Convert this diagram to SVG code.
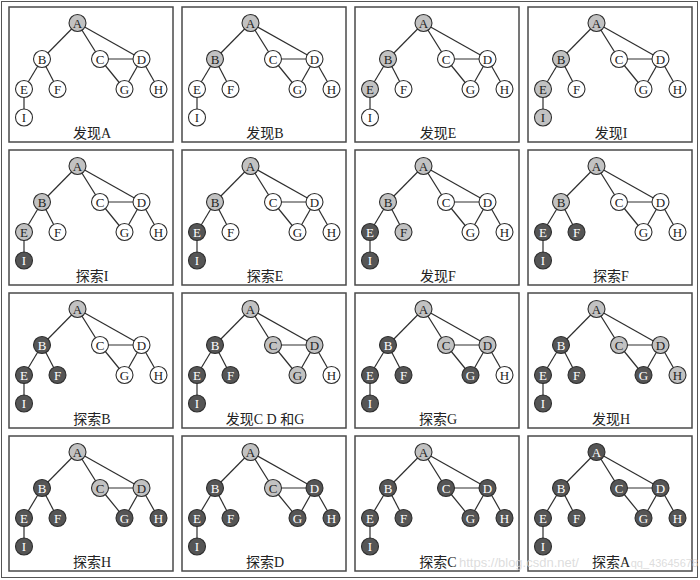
<svg xmlns="http://www.w3.org/2000/svg" xmlns:xlink="http://www.w3.org/1999/xlink" width="700" height="580" viewBox="0 0 700 580">
<style>
.frame{fill:#fff;stroke:#555;stroke-width:1}
.panel{fill:#fff;stroke:#4a4a4a;stroke-width:1.5}
.edge{stroke:#2e2e2e;stroke-width:1.2;fill:none}
.n circle{stroke:#2e2e2e;stroke-width:1.1;}
.w circle{fill:#fff}
.l circle{fill:#c2c2c2}
.d circle{fill:#555}
.n text{font-family:"Liberation Serif","Noto Sans CJK SC",serif;font-size:13px;text-anchor:middle;fill:#222}
.d text{fill:#fff}
.lbl{font-family:"Liberation Serif","Noto Sans CJK SC",serif;font-size:14px;text-anchor:middle;fill:#222}
.wm{font-family:"Liberation Sans",sans-serif;fill:#d4d4d4;fill-opacity:0.8}
</style>
<defs>
<g id="edges">
<line class="edge" x1="68.5" y1="16" x2="33" y2="52"/>
<line class="edge" x1="68.5" y1="16" x2="91" y2="52"/>
<line class="edge" x1="68.5" y1="16" x2="132.5" y2="52"/>
<line class="edge" x1="33" y1="52" x2="15" y2="82"/>
<line class="edge" x1="33" y1="52" x2="48.5" y2="82"/>
<line class="edge" x1="91" y1="52" x2="132.5" y2="52"/>
<line class="edge" x1="91" y1="52" x2="115.5" y2="82"/>
<line class="edge" x1="132.5" y1="52" x2="115.5" y2="82"/>
<line class="edge" x1="132.5" y1="52" x2="149.5" y2="82"/>
<line class="edge" x1="15" y1="82" x2="15" y2="110.5"/>
</g>
</defs>
<rect class="frame" x="1.5" y="1.5" width="696" height="576"/>

<!-- Panel 1 -->
<g id="panel1" transform="translate(9,7)">
<rect class="panel" x="0" y="0" width="164" height="135"/>
<g id="p1-connectors"><use xlink:href="#edges"/></g>
<g id="p1-A" class="n l" transform="translate(68.5,16)"><circle r="8.5"/><text y="4.5">A</text></g>
<g id="p1-B" class="n w" transform="translate(33,52)"><circle r="8.5"/><text y="4.5">B</text></g>
<g id="p1-C" class="n w" transform="translate(91,52)"><circle r="8.5"/><text y="4.5">C</text></g>
<g id="p1-D" class="n w" transform="translate(132.5,52)"><circle r="8.5"/><text y="4.5">D</text></g>
<g id="p1-E" class="n w" transform="translate(15,82)"><circle r="8.5"/><text y="4.5">E</text></g>
<g id="p1-F" class="n w" transform="translate(48.5,82)"><circle r="8.5"/><text y="4.5">F</text></g>
<g id="p1-G" class="n w" transform="translate(115.5,82)"><circle r="8.5"/><text y="4.5">G</text></g>
<g id="p1-H" class="n w" transform="translate(149.5,82)"><circle r="8.5"/><text y="4.5">H</text></g>
<g id="p1-I" class="n w" transform="translate(15,110.5)"><circle r="8.5"/><text y="4.5">I</text></g>
<text class="lbl" x="83" y="131">发现A</text>
</g>

<!-- Panel 2 -->
<g id="panel2" transform="translate(182,7)">
<rect class="panel" x="0" y="0" width="164" height="135"/>
<g id="p2-connectors"><use xlink:href="#edges"/></g>
<g id="p2-A" class="n l" transform="translate(68.5,16)"><circle r="8.5"/><text y="4.5">A</text></g>
<g id="p2-B" class="n l" transform="translate(33,52)"><circle r="8.5"/><text y="4.5">B</text></g>
<g id="p2-C" class="n w" transform="translate(91,52)"><circle r="8.5"/><text y="4.5">C</text></g>
<g id="p2-D" class="n w" transform="translate(132.5,52)"><circle r="8.5"/><text y="4.5">D</text></g>
<g id="p2-E" class="n w" transform="translate(15,82)"><circle r="8.5"/><text y="4.5">E</text></g>
<g id="p2-F" class="n w" transform="translate(48.5,82)"><circle r="8.5"/><text y="4.5">F</text></g>
<g id="p2-G" class="n w" transform="translate(115.5,82)"><circle r="8.5"/><text y="4.5">G</text></g>
<g id="p2-H" class="n w" transform="translate(149.5,82)"><circle r="8.5"/><text y="4.5">H</text></g>
<g id="p2-I" class="n w" transform="translate(15,110.5)"><circle r="8.5"/><text y="4.5">I</text></g>
<text class="lbl" x="83" y="131">发现B</text>
</g>

<!-- Panel 3 -->
<g id="panel3" transform="translate(355,7)">
<rect class="panel" x="0" y="0" width="164" height="135"/>
<g id="p3-connectors"><use xlink:href="#edges"/></g>
<g id="p3-A" class="n l" transform="translate(68.5,16)"><circle r="8.5"/><text y="4.5">A</text></g>
<g id="p3-B" class="n l" transform="translate(33,52)"><circle r="8.5"/><text y="4.5">B</text></g>
<g id="p3-C" class="n w" transform="translate(91,52)"><circle r="8.5"/><text y="4.5">C</text></g>
<g id="p3-D" class="n w" transform="translate(132.5,52)"><circle r="8.5"/><text y="4.5">D</text></g>
<g id="p3-E" class="n l" transform="translate(15,82)"><circle r="8.5"/><text y="4.5">E</text></g>
<g id="p3-F" class="n w" transform="translate(48.5,82)"><circle r="8.5"/><text y="4.5">F</text></g>
<g id="p3-G" class="n w" transform="translate(115.5,82)"><circle r="8.5"/><text y="4.5">G</text></g>
<g id="p3-H" class="n w" transform="translate(149.5,82)"><circle r="8.5"/><text y="4.5">H</text></g>
<g id="p3-I" class="n w" transform="translate(15,110.5)"><circle r="8.5"/><text y="4.5">I</text></g>
<text class="lbl" x="83" y="131">发现E</text>
</g>

<!-- Panel 4 -->
<g id="panel4" transform="translate(528,7)">
<rect class="panel" x="0" y="0" width="164" height="135"/>
<g id="p4-connectors"><use xlink:href="#edges"/></g>
<g id="p4-A" class="n l" transform="translate(68.5,16)"><circle r="8.5"/><text y="4.5">A</text></g>
<g id="p4-B" class="n l" transform="translate(33,52)"><circle r="8.5"/><text y="4.5">B</text></g>
<g id="p4-C" class="n w" transform="translate(91,52)"><circle r="8.5"/><text y="4.5">C</text></g>
<g id="p4-D" class="n w" transform="translate(132.5,52)"><circle r="8.5"/><text y="4.5">D</text></g>
<g id="p4-E" class="n l" transform="translate(15,82)"><circle r="8.5"/><text y="4.5">E</text></g>
<g id="p4-F" class="n w" transform="translate(48.5,82)"><circle r="8.5"/><text y="4.5">F</text></g>
<g id="p4-G" class="n w" transform="translate(115.5,82)"><circle r="8.5"/><text y="4.5">G</text></g>
<g id="p4-H" class="n w" transform="translate(149.5,82)"><circle r="8.5"/><text y="4.5">H</text></g>
<g id="p4-I" class="n l" transform="translate(15,110.5)"><circle r="8.5"/><text y="4.5">I</text></g>
<text class="lbl" x="83" y="131">发现I</text>
</g>

<!-- Panel 5 -->
<g id="panel5" transform="translate(9,150)">
<rect class="panel" x="0" y="0" width="164" height="135"/>
<g id="p5-connectors"><use xlink:href="#edges"/></g>
<g id="p5-A" class="n l" transform="translate(68.5,16)"><circle r="8.5"/><text y="4.5">A</text></g>
<g id="p5-B" class="n l" transform="translate(33,52)"><circle r="8.5"/><text y="4.5">B</text></g>
<g id="p5-C" class="n w" transform="translate(91,52)"><circle r="8.5"/><text y="4.5">C</text></g>
<g id="p5-D" class="n w" transform="translate(132.5,52)"><circle r="8.5"/><text y="4.5">D</text></g>
<g id="p5-E" class="n l" transform="translate(15,82)"><circle r="8.5"/><text y="4.5">E</text></g>
<g id="p5-F" class="n w" transform="translate(48.5,82)"><circle r="8.5"/><text y="4.5">F</text></g>
<g id="p5-G" class="n w" transform="translate(115.5,82)"><circle r="8.5"/><text y="4.5">G</text></g>
<g id="p5-H" class="n w" transform="translate(149.5,82)"><circle r="8.5"/><text y="4.5">H</text></g>
<g id="p5-I" class="n d" transform="translate(15,110.5)"><circle r="8.5"/><text y="4.5">I</text></g>
<text class="lbl" x="83" y="131">探索I</text>
</g>

<!-- Panel 6 -->
<g id="panel6" transform="translate(182,150)">
<rect class="panel" x="0" y="0" width="164" height="135"/>
<g id="p6-connectors"><use xlink:href="#edges"/></g>
<g id="p6-A" class="n l" transform="translate(68.5,16)"><circle r="8.5"/><text y="4.5">A</text></g>
<g id="p6-B" class="n l" transform="translate(33,52)"><circle r="8.5"/><text y="4.5">B</text></g>
<g id="p6-C" class="n w" transform="translate(91,52)"><circle r="8.5"/><text y="4.5">C</text></g>
<g id="p6-D" class="n w" transform="translate(132.5,52)"><circle r="8.5"/><text y="4.5">D</text></g>
<g id="p6-E" class="n d" transform="translate(15,82)"><circle r="8.5"/><text y="4.5">E</text></g>
<g id="p6-F" class="n w" transform="translate(48.5,82)"><circle r="8.5"/><text y="4.5">F</text></g>
<g id="p6-G" class="n w" transform="translate(115.5,82)"><circle r="8.5"/><text y="4.5">G</text></g>
<g id="p6-H" class="n w" transform="translate(149.5,82)"><circle r="8.5"/><text y="4.5">H</text></g>
<g id="p6-I" class="n d" transform="translate(15,110.5)"><circle r="8.5"/><text y="4.5">I</text></g>
<text class="lbl" x="83" y="131">探索E</text>
</g>

<!-- Panel 7 -->
<g id="panel7" transform="translate(355,150)">
<rect class="panel" x="0" y="0" width="164" height="135"/>
<g id="p7-connectors"><use xlink:href="#edges"/></g>
<g id="p7-A" class="n l" transform="translate(68.5,16)"><circle r="8.5"/><text y="4.5">A</text></g>
<g id="p7-B" class="n l" transform="translate(33,52)"><circle r="8.5"/><text y="4.5">B</text></g>
<g id="p7-C" class="n w" transform="translate(91,52)"><circle r="8.5"/><text y="4.5">C</text></g>
<g id="p7-D" class="n w" transform="translate(132.5,52)"><circle r="8.5"/><text y="4.5">D</text></g>
<g id="p7-E" class="n d" transform="translate(15,82)"><circle r="8.5"/><text y="4.5">E</text></g>
<g id="p7-F" class="n l" transform="translate(48.5,82)"><circle r="8.5"/><text y="4.5">F</text></g>
<g id="p7-G" class="n w" transform="translate(115.5,82)"><circle r="8.5"/><text y="4.5">G</text></g>
<g id="p7-H" class="n w" transform="translate(149.5,82)"><circle r="8.5"/><text y="4.5">H</text></g>
<g id="p7-I" class="n d" transform="translate(15,110.5)"><circle r="8.5"/><text y="4.5">I</text></g>
<text class="lbl" x="83" y="131">发现F</text>
</g>

<!-- Panel 8 -->
<g id="panel8" transform="translate(528,150)">
<rect class="panel" x="0" y="0" width="164" height="135"/>
<g id="p8-connectors"><use xlink:href="#edges"/></g>
<g id="p8-A" class="n l" transform="translate(68.5,16)"><circle r="8.5"/><text y="4.5">A</text></g>
<g id="p8-B" class="n l" transform="translate(33,52)"><circle r="8.5"/><text y="4.5">B</text></g>
<g id="p8-C" class="n w" transform="translate(91,52)"><circle r="8.5"/><text y="4.5">C</text></g>
<g id="p8-D" class="n w" transform="translate(132.5,52)"><circle r="8.5"/><text y="4.5">D</text></g>
<g id="p8-E" class="n d" transform="translate(15,82)"><circle r="8.5"/><text y="4.5">E</text></g>
<g id="p8-F" class="n d" transform="translate(48.5,82)"><circle r="8.5"/><text y="4.5">F</text></g>
<g id="p8-G" class="n w" transform="translate(115.5,82)"><circle r="8.5"/><text y="4.5">G</text></g>
<g id="p8-H" class="n w" transform="translate(149.5,82)"><circle r="8.5"/><text y="4.5">H</text></g>
<g id="p8-I" class="n d" transform="translate(15,110.5)"><circle r="8.5"/><text y="4.5">I</text></g>
<text class="lbl" x="83" y="131">探索F</text>
</g>

<!-- Panel 9 -->
<g id="panel9" transform="translate(9,293)">
<rect class="panel" x="0" y="0" width="164" height="135"/>
<g id="p9-connectors"><use xlink:href="#edges"/></g>
<g id="p9-A" class="n l" transform="translate(68.5,16)"><circle r="8.5"/><text y="4.5">A</text></g>
<g id="p9-B" class="n d" transform="translate(33,52)"><circle r="8.5"/><text y="4.5">B</text></g>
<g id="p9-C" class="n w" transform="translate(91,52)"><circle r="8.5"/><text y="4.5">C</text></g>
<g id="p9-D" class="n w" transform="translate(132.5,52)"><circle r="8.5"/><text y="4.5">D</text></g>
<g id="p9-E" class="n d" transform="translate(15,82)"><circle r="8.5"/><text y="4.5">E</text></g>
<g id="p9-F" class="n d" transform="translate(48.5,82)"><circle r="8.5"/><text y="4.5">F</text></g>
<g id="p9-G" class="n w" transform="translate(115.5,82)"><circle r="8.5"/><text y="4.5">G</text></g>
<g id="p9-H" class="n w" transform="translate(149.5,82)"><circle r="8.5"/><text y="4.5">H</text></g>
<g id="p9-I" class="n d" transform="translate(15,110.5)"><circle r="8.5"/><text y="4.5">I</text></g>
<text class="lbl" x="83" y="131">探索B</text>
</g>

<!-- Panel 10 -->
<g id="panel10" transform="translate(182,293)">
<rect class="panel" x="0" y="0" width="164" height="135"/>
<g id="p10-connectors"><use xlink:href="#edges"/></g>
<g id="p10-A" class="n l" transform="translate(68.5,16)"><circle r="8.5"/><text y="4.5">A</text></g>
<g id="p10-B" class="n d" transform="translate(33,52)"><circle r="8.5"/><text y="4.5">B</text></g>
<g id="p10-C" class="n l" transform="translate(91,52)"><circle r="8.5"/><text y="4.5">C</text></g>
<g id="p10-D" class="n l" transform="translate(132.5,52)"><circle r="8.5"/><text y="4.5">D</text></g>
<g id="p10-E" class="n d" transform="translate(15,82)"><circle r="8.5"/><text y="4.5">E</text></g>
<g id="p10-F" class="n d" transform="translate(48.5,82)"><circle r="8.5"/><text y="4.5">F</text></g>
<g id="p10-G" class="n l" transform="translate(115.5,82)"><circle r="8.5"/><text y="4.5">G</text></g>
<g id="p10-H" class="n w" transform="translate(149.5,82)"><circle r="8.5"/><text y="4.5">H</text></g>
<g id="p10-I" class="n d" transform="translate(15,110.5)"><circle r="8.5"/><text y="4.5">I</text></g>
<text class="lbl" x="83" y="131">发现C D 和G</text>
</g>

<!-- Panel 11 -->
<g id="panel11" transform="translate(355,293)">
<rect class="panel" x="0" y="0" width="164" height="135"/>
<g id="p11-connectors"><use xlink:href="#edges"/></g>
<g id="p11-A" class="n l" transform="translate(68.5,16)"><circle r="8.5"/><text y="4.5">A</text></g>
<g id="p11-B" class="n d" transform="translate(33,52)"><circle r="8.5"/><text y="4.5">B</text></g>
<g id="p11-C" class="n l" transform="translate(91,52)"><circle r="8.5"/><text y="4.5">C</text></g>
<g id="p11-D" class="n l" transform="translate(132.5,52)"><circle r="8.5"/><text y="4.5">D</text></g>
<g id="p11-E" class="n d" transform="translate(15,82)"><circle r="8.5"/><text y="4.5">E</text></g>
<g id="p11-F" class="n d" transform="translate(48.5,82)"><circle r="8.5"/><text y="4.5">F</text></g>
<g id="p11-G" class="n d" transform="translate(115.5,82)"><circle r="8.5"/><text y="4.5">G</text></g>
<g id="p11-H" class="n w" transform="translate(149.5,82)"><circle r="8.5"/><text y="4.5">H</text></g>
<g id="p11-I" class="n d" transform="translate(15,110.5)"><circle r="8.5"/><text y="4.5">I</text></g>
<text class="lbl" x="83" y="131">探索G</text>
</g>

<!-- Panel 12 -->
<g id="panel12" transform="translate(528,293)">
<rect class="panel" x="0" y="0" width="164" height="135"/>
<g id="p12-connectors"><use xlink:href="#edges"/></g>
<g id="p12-A" class="n l" transform="translate(68.5,16)"><circle r="8.5"/><text y="4.5">A</text></g>
<g id="p12-B" class="n d" transform="translate(33,52)"><circle r="8.5"/><text y="4.5">B</text></g>
<g id="p12-C" class="n l" transform="translate(91,52)"><circle r="8.5"/><text y="4.5">C</text></g>
<g id="p12-D" class="n l" transform="translate(132.5,52)"><circle r="8.5"/><text y="4.5">D</text></g>
<g id="p12-E" class="n d" transform="translate(15,82)"><circle r="8.5"/><text y="4.5">E</text></g>
<g id="p12-F" class="n d" transform="translate(48.5,82)"><circle r="8.5"/><text y="4.5">F</text></g>
<g id="p12-G" class="n d" transform="translate(115.5,82)"><circle r="8.5"/><text y="4.5">G</text></g>
<g id="p12-H" class="n l" transform="translate(149.5,82)"><circle r="8.5"/><text y="4.5">H</text></g>
<g id="p12-I" class="n d" transform="translate(15,110.5)"><circle r="8.5"/><text y="4.5">I</text></g>
<text class="lbl" x="83" y="131">发现H</text>
</g>

<!-- Panel 13 -->
<g id="panel13" transform="translate(9,436)">
<rect class="panel" x="0" y="0" width="164" height="135"/>
<g id="p13-connectors"><use xlink:href="#edges"/></g>
<g id="p13-A" class="n l" transform="translate(68.5,16)"><circle r="8.5"/><text y="4.5">A</text></g>
<g id="p13-B" class="n d" transform="translate(33,52)"><circle r="8.5"/><text y="4.5">B</text></g>
<g id="p13-C" class="n l" transform="translate(91,52)"><circle r="8.5"/><text y="4.5">C</text></g>
<g id="p13-D" class="n l" transform="translate(132.5,52)"><circle r="8.5"/><text y="4.5">D</text></g>
<g id="p13-E" class="n d" transform="translate(15,82)"><circle r="8.5"/><text y="4.5">E</text></g>
<g id="p13-F" class="n d" transform="translate(48.5,82)"><circle r="8.5"/><text y="4.5">F</text></g>
<g id="p13-G" class="n d" transform="translate(115.5,82)"><circle r="8.5"/><text y="4.5">G</text></g>
<g id="p13-H" class="n d" transform="translate(149.5,82)"><circle r="8.5"/><text y="4.5">H</text></g>
<g id="p13-I" class="n d" transform="translate(15,110.5)"><circle r="8.5"/><text y="4.5">I</text></g>
<text class="lbl" x="83" y="131">探索H</text>
</g>

<!-- Panel 14 -->
<g id="panel14" transform="translate(182,436)">
<rect class="panel" x="0" y="0" width="164" height="135"/>
<g id="p14-connectors"><use xlink:href="#edges"/></g>
<g id="p14-A" class="n l" transform="translate(68.5,16)"><circle r="8.5"/><text y="4.5">A</text></g>
<g id="p14-B" class="n d" transform="translate(33,52)"><circle r="8.5"/><text y="4.5">B</text></g>
<g id="p14-C" class="n l" transform="translate(91,52)"><circle r="8.5"/><text y="4.5">C</text></g>
<g id="p14-D" class="n d" transform="translate(132.5,52)"><circle r="8.5"/><text y="4.5">D</text></g>
<g id="p14-E" class="n d" transform="translate(15,82)"><circle r="8.5"/><text y="4.5">E</text></g>
<g id="p14-F" class="n d" transform="translate(48.5,82)"><circle r="8.5"/><text y="4.5">F</text></g>
<g id="p14-G" class="n d" transform="translate(115.5,82)"><circle r="8.5"/><text y="4.5">G</text></g>
<g id="p14-H" class="n d" transform="translate(149.5,82)"><circle r="8.5"/><text y="4.5">H</text></g>
<g id="p14-I" class="n d" transform="translate(15,110.5)"><circle r="8.5"/><text y="4.5">I</text></g>
<text class="lbl" x="83" y="131">探索D</text>
</g>

<!-- Panel 15 -->
<g id="panel15" transform="translate(355,436)">
<rect class="panel" x="0" y="0" width="164" height="135"/>
<g id="p15-connectors"><use xlink:href="#edges"/></g>
<g id="p15-A" class="n l" transform="translate(68.5,16)"><circle r="8.5"/><text y="4.5">A</text></g>
<g id="p15-B" class="n d" transform="translate(33,52)"><circle r="8.5"/><text y="4.5">B</text></g>
<g id="p15-C" class="n d" transform="translate(91,52)"><circle r="8.5"/><text y="4.5">C</text></g>
<g id="p15-D" class="n d" transform="translate(132.5,52)"><circle r="8.5"/><text y="4.5">D</text></g>
<g id="p15-E" class="n d" transform="translate(15,82)"><circle r="8.5"/><text y="4.5">E</text></g>
<g id="p15-F" class="n d" transform="translate(48.5,82)"><circle r="8.5"/><text y="4.5">F</text></g>
<g id="p15-G" class="n d" transform="translate(115.5,82)"><circle r="8.5"/><text y="4.5">G</text></g>
<g id="p15-H" class="n d" transform="translate(149.5,82)"><circle r="8.5"/><text y="4.5">H</text></g>
<g id="p15-I" class="n d" transform="translate(15,110.5)"><circle r="8.5"/><text y="4.5">I</text></g>
<text class="lbl" x="83" y="131">探索C</text>
</g>

<!-- Panel 16 -->
<g id="panel16" transform="translate(528,436)">
<rect class="panel" x="0" y="0" width="164" height="135"/>
<g id="p16-connectors"><use xlink:href="#edges"/></g>
<g id="p16-A" class="n d" transform="translate(68.5,16)"><circle r="8.5"/><text y="4.5">A</text></g>
<g id="p16-B" class="n d" transform="translate(33,52)"><circle r="8.5"/><text y="4.5">B</text></g>
<g id="p16-C" class="n d" transform="translate(91,52)"><circle r="8.5"/><text y="4.5">C</text></g>
<g id="p16-D" class="n d" transform="translate(132.5,52)"><circle r="8.5"/><text y="4.5">D</text></g>
<g id="p16-E" class="n d" transform="translate(15,82)"><circle r="8.5"/><text y="4.5">E</text></g>
<g id="p16-F" class="n d" transform="translate(48.5,82)"><circle r="8.5"/><text y="4.5">F</text></g>
<g id="p16-G" class="n d" transform="translate(115.5,82)"><circle r="8.5"/><text y="4.5">G</text></g>
<g id="p16-H" class="n d" transform="translate(149.5,82)"><circle r="8.5"/><text y="4.5">H</text></g>
<g id="p16-I" class="n d" transform="translate(15,110.5)"><circle r="8.5"/><text y="4.5">I</text></g>
<text class="lbl" x="83" y="131">探索A</text>
</g>

<text class="wm" x="459" y="567" font-size="13">https://blog.csdn.net/</text>
<text class="wm" x="698" y="567" font-size="11" text-anchor="end">qq_43645678</text>
</svg>
